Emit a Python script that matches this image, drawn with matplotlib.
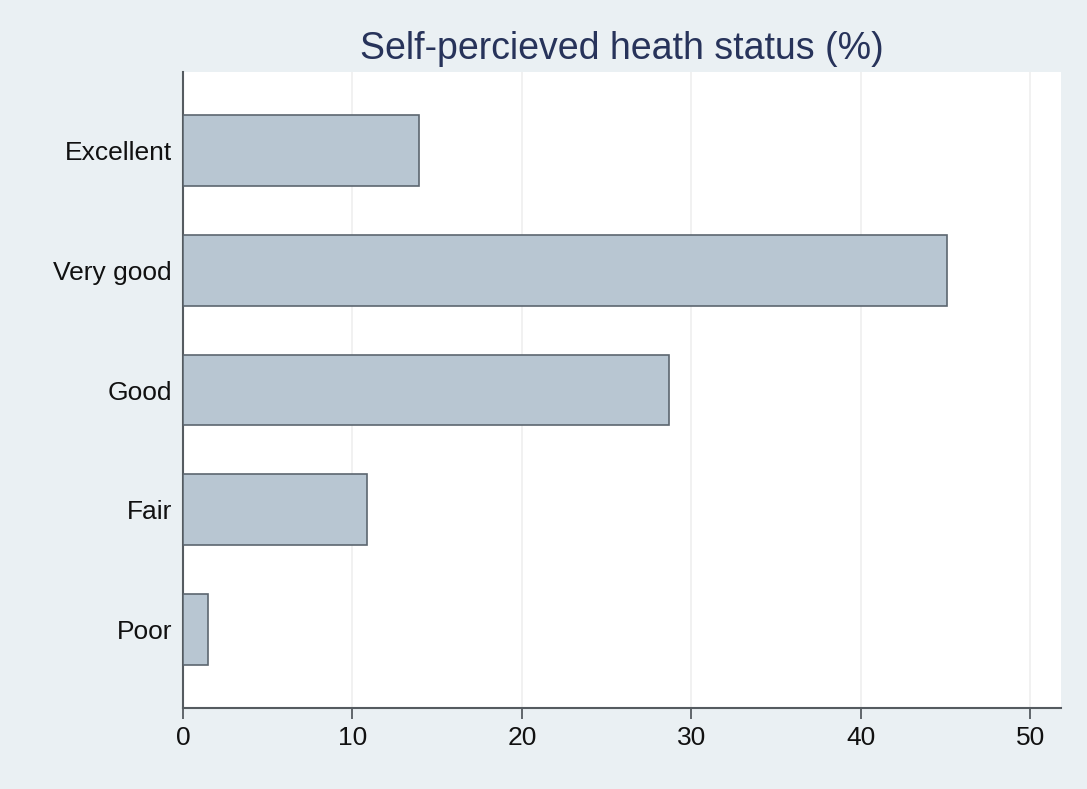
import numpy as np
import matplotlib
matplotlib.use('Agg')
import matplotlib.pyplot as plt

categories = ['Excellent', 'Very good', 'Good', 'Fair', 'Poor']
percent = [13.9, 45.1, 28.7, 10.85, 1.5]
x_ticks = [0, 10, 20, 30, 40, 50]

plt.rcParams['font.family'] = ['Liberation Sans', 'DejaVu Sans']

fig = plt.figure(figsize=(10.87, 7.89), dpi=100, facecolor='#eaf0f3')
ax = fig.add_axes([183 / 1087, 1 - 708 / 789, (1061 - 183) / 1087, (708 - 72) / 789])
ax.set_facecolor('white')

pos = np.arange(len(categories))[::-1]
ax.barh(pos, percent, height=0.59, color='#b8c6d2', edgecolor='#5c6670', linewidth=1.2, zorder=3)

ax.set_xlim(0, 51.8)
ax.set_ylim(-0.655, 4.655)
ax.set_xticks(x_ticks)
ax.set_yticks(pos)
ax.set_yticklabels(categories)
ax.grid(axis='x', color='#efefef', linewidth=1.2, zorder=0)

for s in ['top', 'right']:
    ax.spines[s].set_visible(False)
for s in ['left', 'bottom']:
    ax.spines[s].set_color('#555b60')
    ax.spines[s].set_linewidth(1.5)

ax.tick_params(axis='x', length=8, width=1.3, color='#555b60', labelsize=19, pad=5, labelcolor='#111111')
ax.tick_params(axis='y', length=0, labelsize=19, pad=8, labelcolor='#111111')

fig.text(622 / 1087, 1 - 49 / 789, 'Self-percieved heath status (%)', ha='center', va='center',
         fontsize=27, color='#27335a')

fig.savefig('out.png', dpi=100, facecolor=fig.get_facecolor())
